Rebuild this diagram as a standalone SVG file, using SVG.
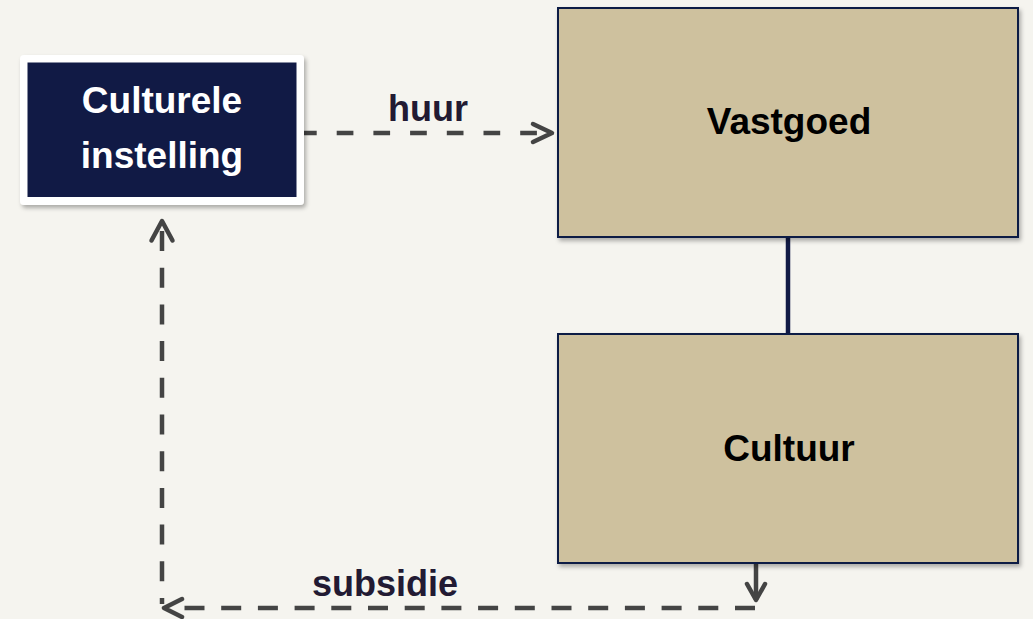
<svg xmlns="http://www.w3.org/2000/svg" width="1033" height="619" viewBox="0 0 1033 619">
  <defs>
    <filter id="shadow" x="-10%" y="-10%" width="125%" height="130%">
      <feDropShadow dx="2" dy="3" stdDeviation="2" flood-color="#000" flood-opacity="0.3"/>
    </filter>
    <style>
      .lbl { font-family: "Liberation Sans", Arial, sans-serif; font-weight: bold; font-size: 37px; text-anchor: middle; }
      .node-tan { fill: #cec19e; stroke: #111a45; stroke-width: 2; }
      .dash { fill: none; stroke: #444444; stroke-width: 4.5; }
      .chev { fill: none; stroke: #444444; stroke-width: 4.5; stroke-linecap: round; stroke-linejoin: round; }
      .edge-lbl { fill: #221a33; font-size: 36px; }
    </style>
  </defs>
  <rect x="0" y="0" width="1033" height="619" fill="#f5f4ef"/>

  <g id="connectors">
    <line x1="788" y1="237" x2="788" y2="333" stroke="#111a45" stroke-width="4.5"/>
    <!-- huur -->
    <line class="dash" x1="300" y1="133" x2="548" y2="133" stroke-dasharray="16.7 20"/>
    <polyline class="chev" points="533,124 552,133 533,142"/>
    <text class="lbl edge-lbl" x="428" y="121">huur</text>
    <!-- subsidie -->
    <line x1="756" y1="563" x2="756" y2="600" stroke="#444444" stroke-width="4.5"/>
    <polyline class="chev" points="747,584 756,600 765,584"/>
    <line class="dash" x1="755" y1="608" x2="166" y2="608" stroke-dasharray="20 16.7"/>
    <polyline class="chev" points="182,599 164,608 182,617"/>
    <line class="dash" x1="162" y1="604" x2="162" y2="226" stroke-dasharray="20 16.7" stroke-dashoffset="14"/>
    <polyline class="chev" points="151.5,240.5 162,221 172.5,240.5"/>
    <text class="lbl edge-lbl" x="385" y="596">subsidie</text>
  </g>

  <g id="node-culturele-instelling">
    <rect x="20" y="55" width="284" height="150" rx="4" fill="#ffffff" filter="url(#shadow)"/>
    <rect x="27.5" y="62.5" width="269" height="134.5" fill="#111a45"/>
    <text class="lbl" x="162" y="113" fill="#ffffff">Culturele</text>
    <text class="lbl" x="162" y="168" fill="#ffffff">instelling</text>
  </g>

  <g id="node-vastgoed">
    <rect class="node-tan" x="558" y="8" width="460" height="229" filter="url(#shadow)"/>
    <text class="lbl" x="789" y="134" fill="#000000">Vastgoed</text>
  </g>

  <g id="node-cultuur">
    <rect class="node-tan" x="558" y="334" width="460" height="229" filter="url(#shadow)"/>
    <text class="lbl" x="789" y="461" fill="#000000">Cultuur</text>
  </g>
</svg>
